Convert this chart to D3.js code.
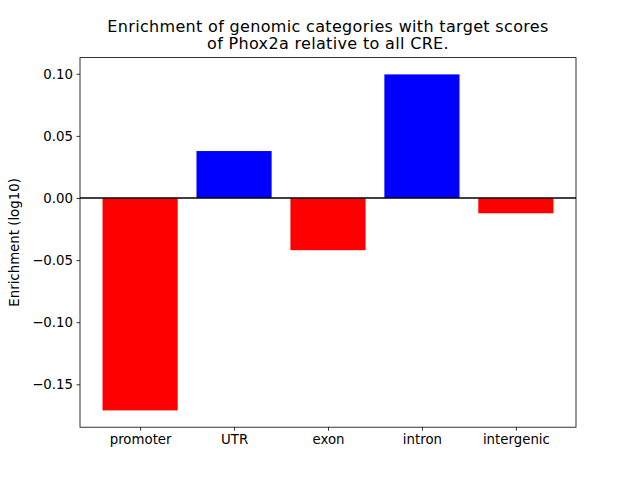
<!DOCTYPE html>
<html><head><meta charset="utf-8">
<script src="https://cdn.jsdelivr.net/npm/d3@7/dist/d3.min.js"></script>
<style>body{margin:0;background:#fff}svg{display:block}text{font-family:"DejaVu Sans",sans-serif}</style>
</head><body><svg id="c" width="640" height="480"></svg>
<script>
const categories = ["promoter","UTR","exon","intron","intergenic"];
const values = [-0.171, 0.0378, -0.0420, 0.0995, -0.0123];
const yTicks = [-0.15,-0.10,-0.05,0.00,0.05,0.10];
const titleLines = ["Enrichment of genomic categories with target scores","of Phox2a relative to all CRE."];
const yLabel = "Enrichment (log10)";

const svg = d3.select("#c");
const L=80, R=576, T=57.6, B=427.2;
const ymin=d3.min(values), ymax=d3.max(values), m=(ymax-ymin)*0.05;
const y = d3.scaleLinear().domain([ymin-m, ymax+m]).range([B,T]);
const x = d3.scaleLinear().domain([-0.64, 4.64]).range([L,R]);

svg.append("g").selectAll("rect").data(values).join("rect")
  .attr("x",(d,i)=>x(i-0.4)).attr("width",(d,i)=>x(i+0.4)-x(i-0.4))
  .attr("y",d=>Math.min(y(d),y(0))).attr("height",d=>Math.abs(y(d)-y(0)))
  .attr("fill",d=>d<0?"#ff0000":"#0000ff");

svg.append("line").attr("x1",L).attr("x2",R).attr("y1",y(0)).attr("y2",y(0))
  .attr("stroke","#000").attr("stroke-width",1.5);

const ya = d3.axisLeft(y).tickValues(yTicks).tickFormat(d=>d3.format(".2f")(d).replace("-","\u2212")).tickSize(3.5).tickPadding(3.5);
const gy = svg.append("g").attr("transform",`translate(${L},0)`).call(ya);
const xa = d3.axisBottom(x).tickValues(d3.range(categories.length)).tickFormat(i=>categories[i]).tickSize(3.5).tickPadding(3.5);
const gx = svg.append("g").attr("transform",`translate(0,${B})`).call(xa);
[gy,gx].forEach(g=>{g.select(".domain").remove();g.selectAll("text").attr("font-size","13.33px").attr("fill","#000").style("font-family","DejaVu Sans");g.selectAll("line").attr("stroke","#000").attr("stroke-width",0.8);});
gx.selectAll("text").attr("dy","0.71em");

svg.append("rect").attr("x",L).attr("y",T).attr("width",R-L).attr("height",B-T)
  .attr("fill","none").attr("stroke","#000").attr("stroke-width",0.8);

svg.append("text").attr("transform",`translate(18.5,${(T+B)/2}) rotate(-90)`)
  .attr("text-anchor","middle").attr("font-size","13.33px").text(yLabel);

svg.append("g").selectAll("text").data(titleLines).join("text")
  .attr("x",(L+R)/2).attr("y",(d,i)=>32+i*16.7).attr("text-anchor","middle")
  .attr("font-size","16px").attr("letter-spacing","0.33px").text(d=>d);
</script></body></html>
